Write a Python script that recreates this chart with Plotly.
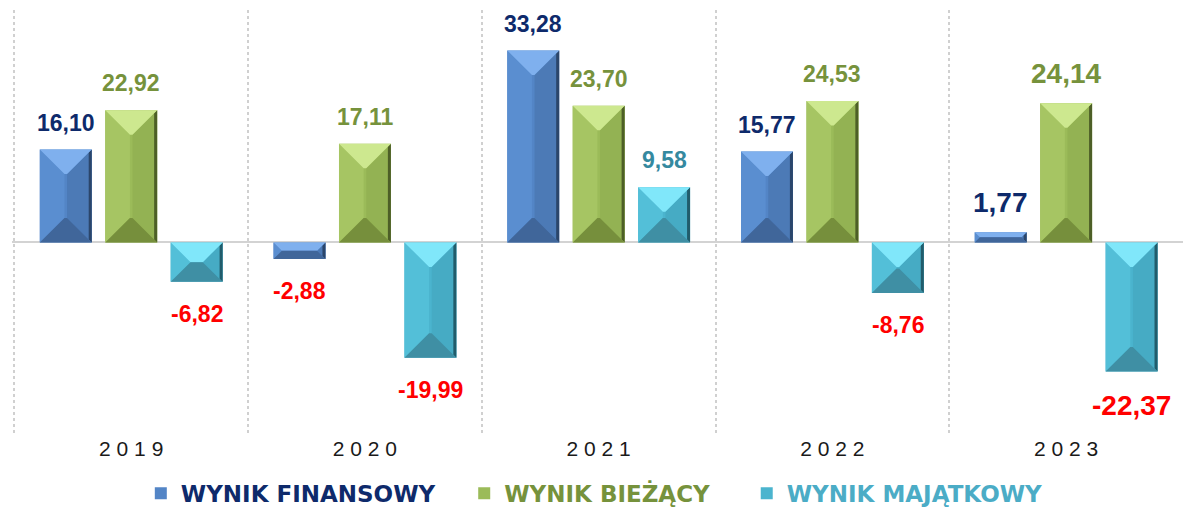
import plotly.graph_objects as go

# ---------------- data ----------------
years = ["2019", "2020", "2021", "2022", "2023"]
finansowy = [16.10, -2.88, 33.28, 15.77, 1.77]
biezacy = [22.92, 17.11, 23.70, 24.53, 24.14]
majatkowy = [-6.82, -19.99, 9.58, -8.76, -22.37]
series_names = ["WYNIK FINANSOWY", "WYNIK BIEŻĄCY", "WYNIK MAJĄTKOWY"]

# ---------------- styling ----------------
W, H = 1183, 515
ML, MR, MT, MB = 12, 0, 10, 78
X_RANGE = [-0.51, 4.5]
Y_RANGE = [-33.2, 40.3]
px_x = (W - ML - MR) / (X_RANGE[1] - X_RANGE[0])
px_y = (H - MT - MB) / (Y_RANGE[1] - Y_RANGE[0])

SLOT = 0.28      # distance between bar centres (category units)
BAR_W = 0.222    # bar width (category units)

palettes = [
    dict(body="#5385C6", top="#7FB0EE", bottom="#40669A", left="#5A8ED0", right="#4C7AB6", edge="#2B466B"),
    dict(body="#9BBB59", top="#CDE88F", bottom="#768F3C", left="#A6C563", right="#93B253", edge="#4D5F27"),
    dict(body="#4BB4CE", top="#80E7FA", bottom="#3F8FA4", left="#53BFD8", right="#46ABC4", edge="#215C6B"),
]
label_colors = ["#0E2A6B", "#76923C", "#35899F"]
NEG_COLOR = "#FF0000"
legend_colors = ["#0E2A6B", "#76923C", "#4BACC6"]
legend_pad = ["\u00a0\u00a0\u00a0", "\u00a0\u00a0\u00a0\u00a0", ""]

all_series = [finansowy, biezacy, majatkowy]
xs = list(range(len(years)))

fig = go.Figure()

# bars
for k, (name, vals, pal) in enumerate(zip(series_names, all_series, palettes)):
    off = (k - 1) * SLOT - BAR_W / 2
    fig.add_trace(go.Bar(
        x=xs, y=vals,
        name=f"<span style='color:{legend_colors[k]}'>{name}{legend_pad[k]}</span>",
        width=BAR_W, offset=off,
        marker=dict(color=pal["body"], line=dict(width=0)),
        hoverinfo="skip",
    ))

# bevel faces computed from the same data
for k, (vals, pal) in enumerate(zip(all_series, palettes)):
    faces = {f: ([], []) for f in ["left", "right", "top", "bottom", "edge"]}
    for i, v in zip(xs, vals):
        cx = i + (k - 1) * SLOT
        x0, x1 = cx - BAR_W / 2, cx + BAR_W / 2
        yt, yb = max(v, 0), min(v, 0)
        h_px = (yt - yb) * px_y
        hw_px = BAR_W / 2 * px_x
        d_px = min(hw_px * 0.95, h_px / 2)
        dx, dy = d_px / px_x, d_px / px_y
        polys = {
            "left": [(x0, yb), (x0, yt), (x0 + dx, yt - dy), (x0 + dx, yb + dy)],
            "right": [(x1, yb), (x1, yt), (x1 - dx, yt - dy), (x1 - dx, yb + dy)],
            "top": [(x0, yt), (x1, yt), (x1 - dx, yt - dy), (x0 + dx, yt - dy)],
            "bottom": [(x0, yb), (x1, yb), (x1 - dx, yb + dy), (x0 + dx, yb + dy)],
        }
        e = 3 / px_x
        ey = min(3 / px_y, (yt - yb) / 2)
        polys["edge"] = [(x1 - e, yb + ey), (x1 - e, yt - ey), (x1, yt), (x1, yb)]
        for f, pts in polys.items():
            fx, fy = faces[f]
            for (a, b) in pts + [pts[0]]:
                fx.append(a)
                fy.append(b)
            fx.append(None)
            fy.append(None)
    for f in ["left", "right", "edge", "top", "bottom"]:
        fx, fy = faces[f]
        fig.add_trace(go.Scatter(
            x=fx, y=fy, mode="lines", fill="toself", fillcolor=pal[f],
            line=dict(width=0, color=pal[f]), showlegend=False, hoverinfo="skip",
        ))

# value labels
for k, vals in enumerate(all_series):
    for i, v in zip(xs, vals):
        big = (years[i] == "2023")
        size = 28 if big else 23
        txt = f"{v:.2f}".replace(".", ",")
        fig.add_annotation(
            x=i + (k - 1) * SLOT, y=v, text=f"<b>{txt}</b>", showarrow=False,
            xanchor="center", yanchor="bottom" if v >= 0 else "top",
            yshift=12 if v >= 0 else (-17 if not big else -16),
            font=dict(family="Liberation Sans", size=size,
                      color=label_colors[k] if v >= 0 else NEG_COLOR),
        )

fig.update_layout(
    width=W, height=H,
    margin=dict(l=ML, r=MR, t=MT, b=MB, pad=0),
    paper_bgcolor="white", plot_bgcolor="white",
    barmode="overlay",
    showlegend=True,
    legend=dict(
        orientation="h", x=0.11, xanchor="left", y=-0.14, yanchor="middle",
        font=dict(family="DejaVu Sans", size=23, weight="bold"),
        bgcolor="rgba(0,0,0,0)",
    ),
    xaxis=dict(
        range=X_RANGE, tickvals=xs, ticktext=[" ".join(y) for y in years],
        showgrid=False, zeroline=False, showline=False, ticks="",
        tickfont=dict(family="Liberation Sans", size=21, color="#1A1A1A"),
        minor=dict(tick0=0.5, dtick=1, showgrid=True, gridcolor="#D0D0D0",
                   gridwidth=2, griddash="dot"),
        fixedrange=True,
    ),
    yaxis=dict(
        range=Y_RANGE, showgrid=False, showticklabels=False, ticks="",
        zeroline=True, zerolinecolor="#D3D3D3", zerolinewidth=2,
        fixedrange=True,
    ),
)

fig.write_html(
    "out.html",
    config={"displayModeBar": False},
    post_script="document.body.style.margin='0';document.body.style.overflow='hidden';",
)
